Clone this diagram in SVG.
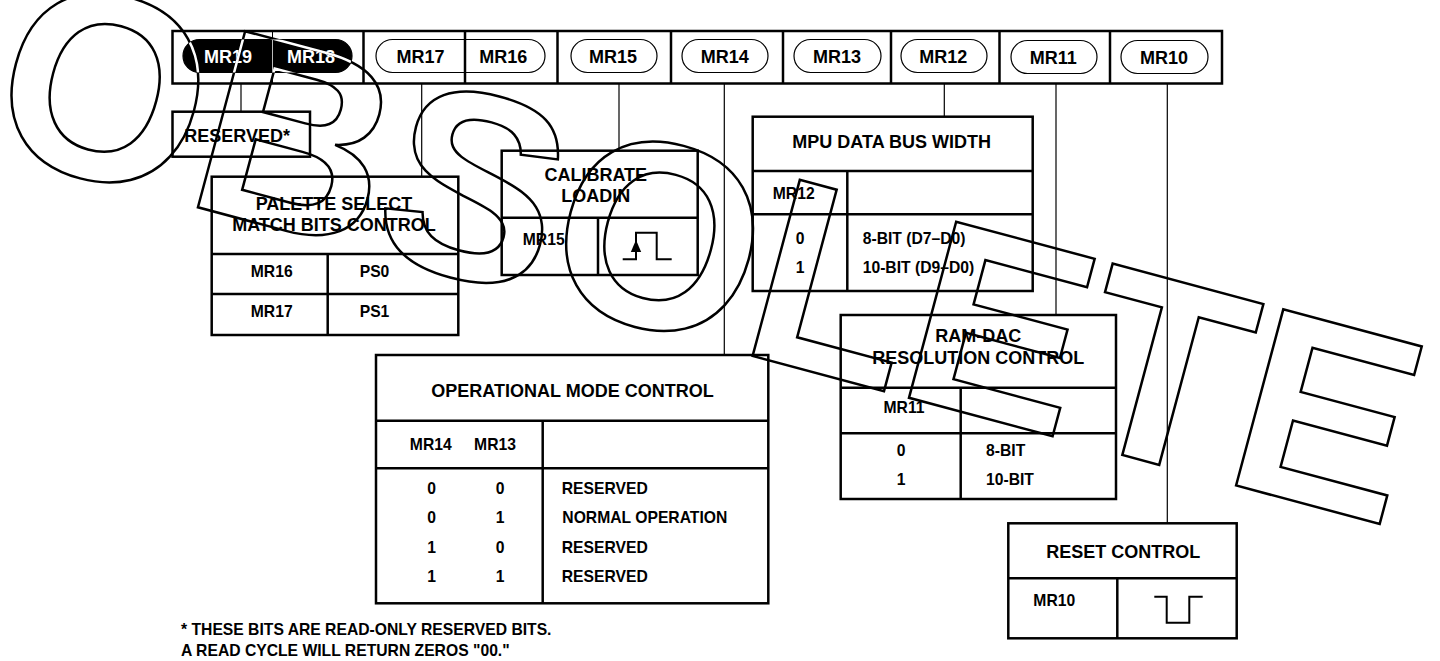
<svg xmlns="http://www.w3.org/2000/svg" width="1440" height="661" viewBox="0 0 1440 661">
<style>
.box{fill:#fff;stroke:#000;stroke-width:2.5}
.ln{stroke:#000;stroke-width:2.5;fill:none}
.conn{stroke:#000;stroke-width:1.2;fill:none}
.pill{fill:#fff;stroke:#000;stroke-width:1.2}
.t{font-family:"Liberation Sans",Arial,Helvetica,sans-serif;font-weight:bold;fill:#000}
.h{font-size:18px}
.c{font-size:15.7px}
.m{text-anchor:middle}
.wm{font-family:"Liberation Sans",Arial,Helvetica,sans-serif;font-weight:bold;font-size:265px;fill:none;stroke-linejoin:miter}
</style>
<defs>
<clipPath id="blackPill"><rect x="183" y="39.5" width="169" height="33" rx="16.5"/></clipPath>
</defs>
<rect width="1440" height="661" fill="#fff"/>

<g id="connectors">
<line class="conn" x1="241" y1="72.5" x2="241" y2="112"/>
<line class="conn" x1="421.7" y1="72.5" x2="421.7" y2="177"/>
<line class="conn" x1="619" y1="72.5" x2="619" y2="151"/>
<line class="conn" x1="724.3" y1="72.5" x2="724.3" y2="355"/>
<line class="conn" x1="944.3" y1="72.5" x2="944.3" y2="117"/>
<line class="conn" x1="1056" y1="74" x2="1056" y2="315"/>
<line class="conn" x1="1167.3" y1="74" x2="1167.3" y2="523"/>
</g>

<g id="register">
<rect class="box" x="172.5" y="31" width="1049.5" height="52.5"/>
<line x1="272.5" y1="31" x2="272.5" y2="83.5" stroke="#000" stroke-width="1"/>
<line class="ln" x1="363.5" y1="31" x2="363.5" y2="83.5"/>
<line class="ln" x1="557.5" y1="31" x2="557.5" y2="83.5"/>
<line class="ln" x1="671" y1="31" x2="671" y2="83.5"/>
<line class="ln" x1="783" y1="31" x2="783" y2="83.5"/>
<line class="ln" x1="891" y1="31" x2="891" y2="83.5"/>
<line class="ln" x1="999.5" y1="31" x2="999.5" y2="83.5"/>
<line class="ln" x1="1110" y1="31" x2="1110" y2="83.5"/>
<rect x="183" y="39.5" width="169" height="33" rx="16.5" fill="#000" stroke="#000" stroke-width="1.2"/>
<line x1="272.5" y1="39.5" x2="272.5" y2="72.5" stroke="#bbb" stroke-width="1"/>
<rect class="pill" x="376" y="39.5" width="169" height="33" rx="16.5"/>
<line class="ln" x1="465" y1="31" x2="465" y2="83.5"/>
<rect class="pill" x="571" y="39.5" width="86" height="33" rx="16.5"/>
<rect class="pill" x="682" y="39.5" width="86" height="33" rx="16.5"/>
<rect class="pill" x="794" y="39.5" width="87" height="33" rx="16.5"/>
<rect class="pill" x="901" y="39.5" width="86" height="33" rx="16.5"/>
<rect class="pill" x="1011" y="40.5" width="86" height="33" rx="16.5"/>
<rect class="pill" x="1121" y="40.5" width="87" height="33" rx="16.5"/>
<text class="t h m" x="228" y="63.3" fill="#fff" style="fill:#fff">MR19</text>
<text class="t h m" x="311" y="63.3" style="fill:#fff">MR18</text>
<text class="t h m" x="420.5" y="63.3">MR17</text>
<text class="t h m" x="503.3" y="63.3">MR16</text>
<text class="t h m" x="613" y="63.3">MR15</text>
<text class="t h m" x="724.7" y="63.3">MR14</text>
<text class="t h m" x="837" y="63.3">MR13</text>
<text class="t h m" x="943.3" y="63.3">MR12</text>
<text class="t h m" x="1053.3" y="63.8">MR11</text>
<text class="t h m" x="1164" y="63.8">MR10</text>
</g>

<g id="reserved">
<rect class="box" x="172.5" y="111.7" width="137.5" height="45"/>
<text class="t h" x="184.3" y="141.7">RESERVED*</text>
</g>

<g id="palette">
<rect class="box" x="211.7" y="176.7" width="246.6" height="158.3"/>
<line class="ln" x1="211.7" y1="254" x2="458.3" y2="254"/>
<line class="ln" x1="211.7" y1="294" x2="458.3" y2="294"/>
<line class="ln" x1="327.7" y1="254" x2="327.7" y2="335"/>
<text class="t h m" x="334" y="210">PALETTE SELECT</text>
<text class="t h m" x="334" y="230.7">MATCH BITS CONTROL</text>
<text class="t c m" x="271.7" y="276.7">MR16</text>
<text class="t c m" x="374.5" y="276.7">PS0</text>
<text class="t c m" x="271.7" y="317.3">MR17</text>
<text class="t c m" x="374.5" y="317.3">PS1</text>
</g>

<g id="calibrate">
<rect class="box" x="501.7" y="150.7" width="196" height="124.3"/>
<line class="ln" x1="501.7" y1="217.7" x2="697.7" y2="217.7"/>
<line class="ln" x1="598" y1="217.7" x2="598" y2="275"/>
<text class="t h m" x="595.8" y="180.7">CALIBRATE</text>
<text class="t h m" x="595.8" y="201.7">LOADIN</text>
<text class="t c m" x="543.7" y="245">MR15</text>
<polyline class="ln" points="622.7,259.3 636,259.3 636,232.7 656.7,232.7 656.7,259.3 671.7,259.3" style="stroke-width:2"/>
<polygon points="636,240 630.8,252 641.2,252" fill="#000"/>
</g>

<g id="mpu">
<rect class="box" x="752.7" y="116.7" width="280" height="174.3"/>
<line class="ln" x1="752.7" y1="171" x2="1032.7" y2="171"/>
<line class="ln" x1="752.7" y1="214.3" x2="1032.7" y2="214.3"/>
<line class="ln" x1="847.3" y1="171" x2="847.3" y2="291"/>
<text class="t h m" x="891.7" y="147.7">MPU DATA BUS WIDTH</text>
<text class="t c m" x="793.7" y="199">MR12</text>
<text class="t c m" x="800" y="244">0</text>
<text class="t c m" x="800" y="272.7">1</text>
<text class="t c" x="862.7" y="244">8-BIT (D7–D0)</text>
<text class="t c" x="862.7" y="272.7">10-BIT (D9–D0)</text>
</g>

<g id="opmode">
<rect class="box" x="376" y="355" width="392.3" height="248.3"/>
<line class="ln" x1="376" y1="420.7" x2="768.3" y2="420.7"/>
<line class="ln" x1="376" y1="468.3" x2="768.3" y2="468.3"/>
<line class="ln" x1="542.7" y1="420.7" x2="542.7" y2="603.3"/>
<text class="t h m" x="572.5" y="397.3">OPERATIONAL MODE CONTROL</text>
<text class="t c m" x="430.8" y="450">MR14</text>
<text class="t c m" x="495" y="450">MR13</text>
<text class="t c m" x="431.7" y="494">0</text>
<text class="t c m" x="500" y="494">0</text>
<text class="t c" x="561.7" y="494">RESERVED</text>
<text class="t c m" x="431.7" y="523.3">0</text>
<text class="t c m" x="500" y="523.3">1</text>
<text class="t c" x="562.3" y="523.3">NORMAL OPERATION</text>
<text class="t c m" x="431.7" y="553">1</text>
<text class="t c m" x="500" y="553">0</text>
<text class="t c" x="561.7" y="553">RESERVED</text>
<text class="t c m" x="431.7" y="581.7">1</text>
<text class="t c m" x="500" y="581.7">1</text>
<text class="t c" x="561.7" y="581.7">RESERVED</text>
</g>

<g id="ramdac">
<rect class="box" x="840.7" y="315" width="275.3" height="184"/>
<line class="ln" x1="840.7" y1="387.7" x2="1116" y2="387.7"/>
<line class="ln" x1="840.7" y1="433.3" x2="1116" y2="433.3"/>
<line class="ln" x1="960.7" y1="387.7" x2="960.7" y2="499"/>
<text class="t h m" x="978.3" y="341.7">RAM-DAC</text>
<text class="t h m" x="978.3" y="364">RESOLUTION CONTROL</text>
<text class="t c m" x="904" y="413.3">MR11</text>
<text class="t c m" x="901" y="456">0</text>
<text class="t c m" x="901" y="485">1</text>
<text class="t c" x="986" y="456">8-BIT</text>
<text class="t c" x="986" y="485">10-BIT</text>
</g>

<g id="reset">
<rect class="box" x="1008.3" y="523.3" width="228.4" height="115"/>
<line class="ln" x1="1008.3" y1="578.3" x2="1236.7" y2="578.3"/>
<line class="ln" x1="1117.3" y1="578.3" x2="1117.3" y2="638.3"/>
<text class="t h m" x="1123.3" y="558.3">RESET CONTROL</text>
<text class="t c m" x="1054.3" y="606">MR10</text>
<polyline class="ln" points="1154.3,596.7 1166.7,596.7 1166.7,622.7 1189.3,622.7 1189.3,596.7 1202.7,596.7" style="stroke-width:2"/>
</g>

<g id="footnote">
<text class="t c" x="181" y="635">* THESE BITS ARE READ-ONLY RESERVED BITS.</text>
<text class="t c" x="181" y="655.5">A READ CYCLE WILL RETURN ZEROS "00."</text>
</g>

<g id="watermark">
<text id="wmText" class="wm" x="21" y="149" transform="rotate(15)" stroke="#000" stroke-width="2.5">OBSOLETE</text>
<g clip-path="url(#blackPill)">
<text class="wm" x="21" y="149" transform="rotate(15)" stroke="#fff" stroke-width="2.5">OBSOLETE</text>
</g>
</g>
</svg>
